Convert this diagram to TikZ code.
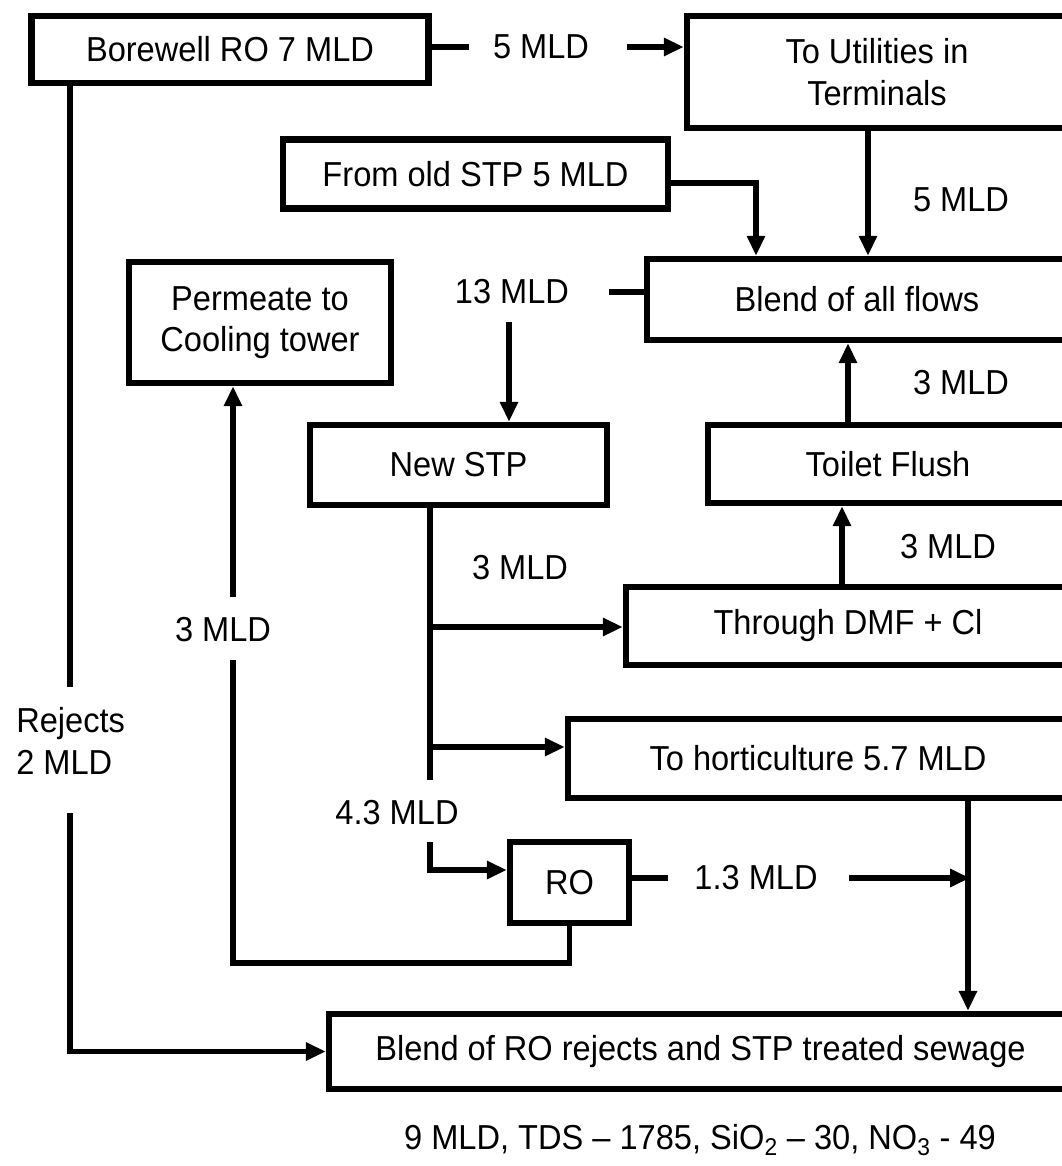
\documentclass[tikz,border=0pt]{standalone}
\usepackage{fontspec}
\setmainfont{Liberation Sans}[FakeStretch=0.94]
\usetikzlibrary{arrows.meta}
\begin{document}
\begin{tikzpicture}[x=0.75pt,y=-0.75pt,
  txt/.style={font=\fontsize{26}{31}\selectfont},
  box/.style={txt, draw=black, line width=4.8pt, fill=white, align=center, inner sep=0pt},
  sz/.style n args={2}{minimum width=0.75pt*#1, minimum height=0.75pt*#2},
  lbl/.style={txt, inner sep=0pt, align=left},
  pipe/.style={line width=3.8pt},
  flow/.style={pipe, -{Triangle[length=15pt,width=13pt]}},
]
\fill[white] (0,0) rectangle (1062,1166);
\clip (0,0) rectangle (1062,1166);

% process boxes
\node[box, sz={397}{67}]  (bw)     at (230,49.5)  {Borewell RO 7 MLD};
\node[box, sz={380}{112}] (util)   at (877,72)    {To Utilities in\\Terminals};
\node[box, sz={385}{69}]  (old)    at (475.5,174) {From old STP 5 MLD};
\node[box, sz={420}{81}]  (blend)  at (857,299.5) {Blend of all flows};
\node[box, sz={262}{121}] (perm)   at (260,322.5) {Permeate to\\Cooling tower};
\node[box, sz={297}{80}]  (nstp)   at (458.5,465) {New STP};
\node[box, sz={360}{78}]  (toilet) at (888,464)   {Toilet Flush};
\node[box, sz={444}{78}]  (dmf)    at (848,626)   {Through DMF + Cl};
\node[box, sz={500}{79}]  (hort)   at (818,758.5) {To horticulture 5.7 MLD};
\node[box, sz={119}{81}]  (ro)     at (569.5,882.5) {RO};
\node[box, sz={743}{75}]  (brj)    at (700.5,1051.5) {Blend of RO rejects and STP treated sewage};

% flow labels
\node[lbl] (l5a)  at (541,47)  {5 MLD};
\node[lbl] (l5b)  at (961,200) {5 MLD};
\node[lbl] (l13)  at (512,292) {13 MLD};
\node[lbl] (l3a)  at (961,383) {3 MLD};
\node[lbl] (l3b)  at (948,547) {3 MLD};
\node[lbl] (l3c)  at (520,568) {3 MLD};
\node[lbl] (l3d)  at (223,630) {3 MLD};
\node[lbl] (l43)  at (397,813) {4.3 MLD};
\node[lbl] (l13b) at (756,878) {1.3 MLD};
\node[lbl, anchor=west] (rej) at (16,741) {Rejects\\2 MLD};
\node[lbl] (note) at (700,1140) {9 MLD, TDS -- 1785, SiO\textsubscript{2} -- 30, NO\textsubscript{3} - 49};

% reference columns and break points of the pipes
\coordinate (x70)  at (70,0);
\coordinate (x233) at (233,0);
\coordinate (x430) at (430,0);
\coordinate (x509) at (509,0);
\coordinate (x756) at (756,0);
\coordinate (x842) at (842,0);
\coordinate (x848) at (848,0);
\coordinate (x868) at (868,0);
\coordinate (x968) at (968,0);
\coordinate (a4)   at (469,47);
\coordinate (a5)   at (627,47);
\coordinate (r1)   at (70,687);
\coordinate (r2)   at (70,813);
\coordinate (p1)   at (233,660);
\coordinate (p2)   at (233,597);
\coordinate (t1)   at (430,780);
\coordinate (t2)   at (430,842);
\coordinate (b1)   at (430,627);
\coordinate (b2)   at (430,747);
\coordinate (e1)   at (430,870);
\coordinate (s0)   at (668,878);
\coordinate (s1)   at (849,878);
\coordinate (q1)   at (970,878);
\coordinate (o1)   at (756,183);
\coordinate (m1)   at (609,292);
\coordinate (n1)   at (509,322);
\coordinate (g1)   at (233,963);

% Borewell RO
\draw[pipe] (bw.east |- a4) -- (a4);
\draw[flow] (a5) -- (a5 -| util.west);
\draw[pipe] (bw.south -| x70) -- (r1);
\draw[flow] (r2) |- (brj.west);

% inflows to the blend of all flows
\draw[flow] (old.east |- o1) -| (blend.north -| x756);
\draw[flow] (util.south -| x868) -- (blend.north -| x868);
\draw[flow] (toilet.north -| x848) -- (blend.south -| x848);
\draw[flow] (dmf.north -| x842) -- (toilet.south -| x842);
\draw[pipe] (blend.west |- m1) -- (m1);
\draw[flow] (n1) -- (nstp.north -| x509);

% New STP outlets
\draw[pipe] (nstp.south -| x430) -- (t1);
\draw[flow] (b1) -- (b1 -| dmf.west);
\draw[flow] (b2) -- (b2 -| hort.west);
\draw[flow] (t2) |- (e1 -| ro.west);

% RO outlets
\draw[pipe] (ro.east |- s0) -- (s0);
\draw[flow] (s1) -- (q1);
\draw[pipe] (ro.south) |- (g1) -- (p1);
\draw[flow] (p2) -- (perm.south -| x233);

% horticulture to final blend
\draw[flow] (hort.south -| x968) -- (brj.north -| x968);
\end{tikzpicture}
\end{document}
